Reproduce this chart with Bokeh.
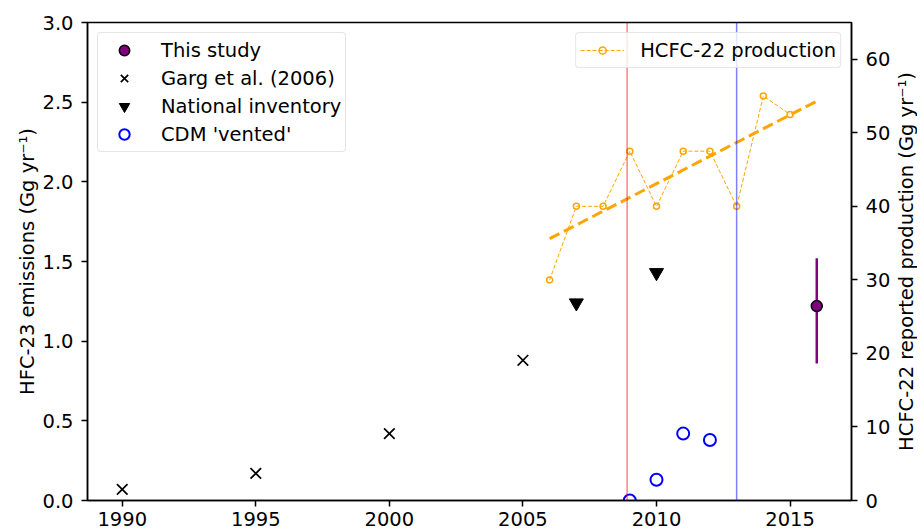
import math
from bokeh.plotting import figure
from bokeh.layouts import row
from bokeh.models import (Range1d, LinearAxis, Legend, LegendItem, FixedTicker,
                          Span, NumeralTickFormatter, Label)
from bokeh.embed import file_html
from bokeh.resources import INLINE

# ---- data ----
garg_years = [1990, 1995, 2000, 2005]
garg_emis = [0.07, 0.17, 0.42, 0.88]
inv_years = [2007, 2010]
inv_emis = [1.24, 1.43]
cdm_years = [2009, 2010, 2011, 2012]
cdm_emis = [0.0, 0.13, 0.42, 0.38]
study_year = [2016]
study_emis = [1.22]
study_low = [0.86]
study_high = [1.52]
prod_years = [2006, 2007, 2008, 2009, 2010, 2011, 2012, 2013, 2014, 2015]
prod_values = [30, 40, 40, 47.5, 40, 47.5, 47.5, 40, 55, 52.5]
trend_years = [2006, 2016]
trend_values = [35.6, 54.3]
cdm_start_year = 2008.9
cdm_end_year = 2013
x_ticks = [1990, 1995, 2000, 2005, 2010, 2015]
left_ticks = [0.0, 0.5, 1.0, 1.5, 2.0, 2.5, 3.0]
right_ticks = [0, 10, 20, 30, 40, 50, 60]

FONT = "DejaVu Sans"
FS = "19.5px"
X_MIN, X_MAX = 1988.7, 2017.3
PROD_MAX = 65
H = 532
TOP, BOTTOM = 22, 32

p = figure(width=895, height=H, output_backend="svg", toolbar_location=None,
           x_range=Range1d(X_MIN, X_MAX), y_range=Range1d(0, 3.0),
           min_border_left=87, min_border_right=44, min_border_top=TOP,
           min_border_bottom=BOTTOM)
p.extra_y_ranges = {"prod": Range1d(0, PROD_MAX)}
p.grid.visible = False
p.outline_line_color = "black"
p.outline_line_width = 1.5
p.background_fill_color = "white"
p.border_fill_color = "white"

# axes styling
p.xaxis.ticker = FixedTicker(ticks=x_ticks)
p.yaxis.ticker = FixedTicker(ticks=left_ticks)
p.yaxis.formatter = NumeralTickFormatter(format="0.0")
p.yaxis.axis_label = "HFC-23 emissions (Gg yr\u207b\u00b9)"

right_axis = LinearAxis(y_range_name="prod", ticker=FixedTicker(ticks=right_ticks))
p.add_layout(right_axis, "right")

for ax in [p.xaxis[0], p.yaxis[0], right_axis]:
    ax.axis_line_color = "black"
    ax.axis_line_width = 1.5
    ax.major_tick_line_color = "black"
    ax.major_tick_line_width = 1.5
    ax.major_tick_out = 6
    ax.major_tick_in = 0
    ax.minor_tick_line_color = None
    ax.major_label_text_font = FONT
    ax.major_label_text_font_size = FS
    ax.major_label_text_color = "black"
    ax.major_label_standoff = 8
    ax.axis_label_text_font = FONT
    ax.axis_label_text_font_size = FS
    ax.axis_label_text_font_style = "normal"
    ax.axis_label_text_color = "black"
    ax.axis_label_standoff = 0
p.xaxis.major_label_standoff = 5
right_axis.major_label_standoff = 8

# vertical CDM lines
p.add_layout(Span(location=cdm_start_year, dimension="height", line_color="red",
                  line_alpha=0.5, line_width=1.5))
p.add_layout(Span(location=cdm_end_year, dimension="height", line_color="blue",
                  line_alpha=0.5, line_width=1.5))

# left axis data
r_garg = p.scatter(garg_years, garg_emis, marker="x", size=15, line_color="black",
                   line_width=1.7)
r_inv = p.scatter(inv_years, inv_emis, marker="inverted_triangle", size=14,
                  fill_color="black", line_color="black")
r_cdm = p.scatter(cdm_years, cdm_emis, marker="circle", size=12, fill_alpha=0,
                  line_color="blue", line_width=2)
p.segment(x0=study_year, y0=study_low, x1=study_year, y1=study_high,
          line_color="purple", line_width=2.5)
r_study = p.scatter(study_year, study_emis, marker="circle", size=11,
                    fill_color="purple", line_color="black", line_width=1.5)

# right axis data
r_prod_line = p.line(prod_years, prod_values, y_range_name="prod", line_color="orange",
                     line_width=1, line_dash="4 2")
r_prod_pts = p.scatter(prod_years, prod_values, y_range_name="prod", marker="circle",
                       size=6, fill_alpha=0, line_color="orange", line_width=1.5)
p.line(trend_years, trend_values, y_range_name="prod", line_color="orange",
       line_width=3, line_dash="11 5")

def style_legend(lg, gh, lh, gw, standoff, spacing):
    lg.label_text_font = FONT
    lg.label_text_font_size = FS
    lg.label_text_color = "black"
    lg.background_fill_color = "white"
    lg.background_fill_alpha = 0.8
    lg.border_line_color = "#cccccc"
    lg.border_line_width = 1
    lg.glyph_width = gw
    lg.glyph_height = gh
    lg.label_standoff = standoff
    lg.label_height = lh
    lg.padding = 4
    lg.spacing = spacing
    lg.margin = 10
    if "border_radius" in Legend.properties():
        lg.border_radius = 4

leg1 = Legend(items=[
    LegendItem(label="This study", renderers=[r_study]),
    LegendItem(label="Garg et al. (2006)", renderers=[r_garg]),
    LegendItem(label="National inventory", renderers=[r_inv]),
    LegendItem(label="CDM 'vented'", renderers=[r_cdm]),
], location="top_left")
style_legend(leg1, 26, 26, 44, 15, 2)
leg2 = Legend(items=[
    LegendItem(label="HCFC-22 production", renderers=[r_prod_line, r_prod_pts]),
], location="top_right")
style_legend(leg2, 18, 26, 44, 16, 0)
p.add_layout(leg1, "center")
p.add_layout(leg2, "center")

# narrow strip holding the right-hand axis title, reading bottom-to-top
p2 = figure(width=22, height=H, output_backend="svg", toolbar_location=None,
            x_range=Range1d(0, 1), y_range=Range1d(0, 1),
            x_axis_location=None, y_axis_location=None,
            min_border_left=0, min_border_right=0, min_border_top=TOP,
            min_border_bottom=BOTTOM)
p2.outline_line_color = None
p2.grid.visible = False
p2.background_fill_color = "white"
p2.border_fill_color = "white"
p2.add_layout(Label(x=0.5, y=0.5, text="HCFC-22 reported production (Gg yr\u207b\u00b9)",
                    angle=90, angle_units="deg", text_align="center",
                    text_baseline="middle", text_font=FONT, text_font_size=FS,
                    text_color="black"))

layout = row(p, p2)
open("out.html", "w").write(file_html(layout, INLINE))
